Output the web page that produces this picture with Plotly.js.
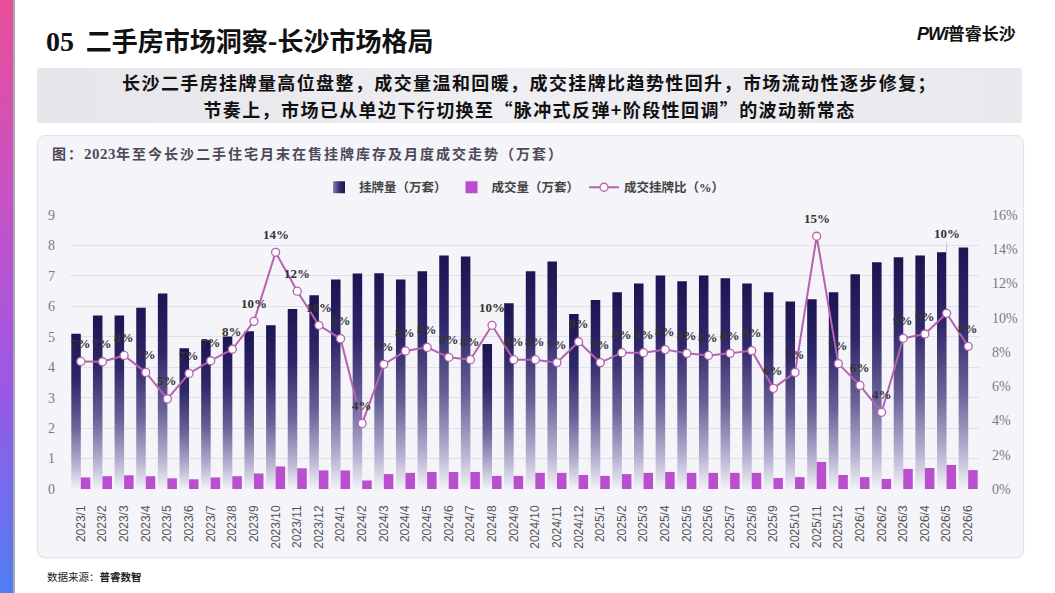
<!DOCTYPE html>
<html>
<head>
<meta charset="utf-8">
<script src="https://cdn.plot.ly/plotly-3.0.1.min.js"></script>
<style>
  html,body{margin:0;padding:0;background:#fff;}
  #page{position:relative;width:1055px;height:593px;overflow:hidden;background:#fff;font-family:"Noto Sans CJK SC",sans-serif;}
  #stripe{position:absolute;left:0;top:0;width:13px;height:593px;background:linear-gradient(180deg,#ea4f98 0%,#c552c8 35%,#9b58e6 65%,#4f7ef2 100%);border-right:2px solid #a9a7b3;}
  #title{position:absolute;left:46px;top:22px;font-size:26px;font-weight:700;color:#111;white-space:nowrap;line-height:36px;}
  #title .num{font-family:"Liberation Serif",serif;font-size:28px;}
  #logo{position:absolute;left:917px;top:20px;white-space:nowrap;color:#111;font-weight:700;}
  #logo .pw{font-family:"Liberation Sans",sans-serif;font-style:italic;font-size:18px;font-weight:900;letter-spacing:-1px;}
  #logo .cn{font-size:17px;}
  #banner{position:absolute;left:37px;top:68px;width:985px;height:55px;border-radius:3px;background:linear-gradient(90deg,#e6e5ea 0%,#efeef2 50%,#e9e8ed 100%);}
  #banner div{position:absolute;left:0;width:100%;text-align:center;font-size:18px;line-height:26px;font-weight:700;color:#111;white-space:nowrap;letter-spacing:1.4px;}
  #card{position:absolute;left:37px;top:135px;width:985px;height:421px;border-radius:8px;background:#f5f4f9;border:1px solid #e3e1ea;box-shadow:0 1px 2px rgba(0,0,0,0.05);}
  #cardTitle{position:absolute;left:52px;top:143px;font-size:14px;line-height:20px;font-weight:700;color:#4a4a58;white-space:nowrap;letter-spacing:2px;}
  #cardTitle .n{font-family:"Liberation Serif",serif;font-size:15px;letter-spacing:0.5px;}
  #source{position:absolute;left:47px;top:569px;font-size:10.5px;line-height:16px;color:#222;white-space:nowrap;}
  #chart{position:absolute;left:0;top:0;width:1055px;height:593px;}
</style>
</head>
<body>
<div id="page">
  <div id="stripe"></div>
  <div id="title"><span class="num">05</span>&nbsp;&nbsp;二手房市场洞察-长沙市场格局</div>
  <div id="logo"><span class="pw">PWi</span><span class="cn">普睿长沙</span></div>
  <div id="banner">
    <div style="top:1px">长沙二手房挂牌量高位盘整，成交量温和回暖，成交挂牌比趋势性回升，市场流动性逐步修复；</div>
    <div style="top:28px">节奏上，市场已从单边下行切换至“脉冲式反弹+阶段性回调”的波动新常态</div>
  </div>
  <div id="card"></div>
  <div id="cardTitle">图：<span class="n">2023</span>年至今长沙二手住宅月末在售挂牌库存及月度成交走势（万套）</div>
  <div id="source">数据来源：<b>普睿数智</b></div>
  <div id="chart"></div>
</div>
<script>
const months = ["2023/1","2023/2","2023/3","2023/4","2023/5","2023/6","2023/7","2023/8","2023/9","2023/10","2023/11","2023/12",
"2024/1","2024/2","2024/3","2024/4","2024/5","2024/6","2024/7","2024/8","2024/9","2024/10","2024/11","2024/12",
"2025/1","2025/2","2025/3","2025/4","2025/5","2025/6","2025/7","2025/8","2025/9","2025/10","2025/11","2025/12",
"2026/1","2026/2","2026/3","2026/4","2026/5","2026/6"];

// 挂牌量（万套）
const listing = [5.10,5.70,5.70,5.95,6.42,4.62,4.89,5.01,5.18,5.38,5.91,6.36,
6.88,7.08,7.09,6.88,7.15,7.67,7.64,4.76,6.10,7.15,7.47,5.75,
6.21,6.46,6.75,7.01,6.82,7.01,6.92,6.75,6.46,6.16,6.23,6.46,
7.05,7.45,7.61,7.67,7.78,7.93];

// 成交量（万套）
const deals = [0.38,0.42,0.45,0.42,0.35,0.32,0.38,0.42,0.51,0.74,0.68,0.61,
0.61,0.28,0.49,0.53,0.56,0.56,0.56,0.43,0.43,0.53,0.53,0.46,
0.43,0.49,0.53,0.56,0.53,0.53,0.53,0.53,0.36,0.39,0.89,0.46,
0.39,0.33,0.66,0.69,0.79,0.62];

// 成交挂牌比（%）
const ratio = [7.45,7.43,7.80,6.81,5.26,6.75,7.49,8.16,9.79,13.82,11.55,9.56,
8.78,3.83,7.28,8.06,8.27,7.69,7.55,9.56,7.55,7.55,7.38,8.60,
7.38,7.96,7.96,8.14,7.92,7.80,7.92,8.08,5.88,6.81,14.76,7.32,
6.05,4.48,8.80,9.05,10.26,8.33];

const leftTicks = [0,1,2,3,4,5,6,7,8,9];
const rightTicks = [0,2,4,6,8,10,12,14,16];
const rightTickText = ["0%","2%","4%","6%","8%","10%","12%","14%","16%"];

const serif = "Liberation Serif, Noto Sans CJK SC, serif";
const lineColor = "#b563b0";
const leaderMonth = "2026/5";   // label lifted with a thin leader line

const data = [
  {type:"bar", name:"挂牌量（万套）", x:months, y:listing, marker:{color:"#2a2264"}, hoverinfo:"skip"},
  {type:"bar", name:"成交量（万套）", x:months, y:deals, marker:{color:"#b94fcf"}, hoverinfo:"skip"},
  {type:"scatter", mode:"lines+markers", name:"成交挂牌比（%）", x:months, y:ratio, yaxis:"y2",
   line:{color:lineColor, width:2},
   marker:{size:8, color:"#ffffff", line:{color:lineColor, width:1.3}},
   hoverinfo:"skip", cliponaxis:false}
];

const labelFont = {family:serif, size:13, color:"#333333", weight:"bold"};
const annotations = months.map(function(m, i){
  const a = {x:m, y:ratio[i], xref:"x", yref:"y2", text:Math.round(ratio[i]) + "%",
             font:labelFont, showarrow:false, yshift:18};
  if(m === leaderMonth){
    a.showarrow = true; a.arrowhead = 0; a.arrowwidth = 1; a.arrowcolor = "#c4c3ce";
    a.ax = 0; a.ay = -80; a.yshift = 0; a.standoff = 5;
  }
  return a;
});

const layout = {
  width:1055, height:593,
  margin:{l:70, r:76, t:215, b:104},
  paper_bgcolor:"rgba(0,0,0,0)", plot_bgcolor:"rgba(0,0,0,0)",
  barmode:"group", bargap:0.12, bargroupgap:0,
  showlegend:true,
  legend:{orientation:"h", x:0.5, xanchor:"center", y:1.1, yanchor:"middle",
          font:{family:serif, size:12.5, color:"#444", weight:"bold"}, bgcolor:"rgba(0,0,0,0)", itemwidth:30},
  xaxis:{type:"category", range:[-0.5, months.length-0.5], autorange:false, tickangle:-90, showgrid:false, zeroline:false, showline:false, ticks:"",
         tickfont:{family:"Liberation Sans, sans-serif", size:12, color:"#555"}, ticklabelstandoff:13},
  yaxis:{range:[0,9], tickvals:leftTicks, showgrid:true, gridcolor:"#e1e0e8", gridwidth:1, zeroline:false, showline:false, ticks:"",
         tickfont:{family:serif, size:14, color:"#7a7a7a"}, ticklabelstandoff:14},
  yaxis2:{range:[0,16], tickvals:rightTicks, ticktext:rightTickText, overlaying:"y", side:"right", showgrid:false, zeroline:false, showline:false, ticks:"",
          tickfont:{family:serif, size:14, color:"#7a7a7a"}, ticklabelstandoff:12},
  annotations: annotations,
  font:{family:serif}
};

const gd = document.getElementById("chart");
Plotly.newPlot(gd, data, layout, {displayModeBar:false, staticPlot:true}).then(function(){
  const NS = "http://www.w3.org/2000/svg";
  const svg = gd.querySelector(".main-svg");
  let defs = svg.querySelector("defs");
  if(!defs){ defs = document.createElementNS(NS,"defs"); svg.insertBefore(defs, svg.firstChild); }
  function grad(id, x2, y2, stops){
    const g = document.createElementNS(NS,"linearGradient");
    g.setAttribute("id", id); g.setAttribute("x1","0"); g.setAttribute("y1","0");
    g.setAttribute("x2", x2); g.setAttribute("y2", y2);
    stops.forEach(function(s){
      const st = document.createElementNS(NS,"stop");
      st.setAttribute("offset", s[0]); st.setAttribute("stop-color", s[1]); st.setAttribute("stop-opacity", s[2]);
      g.appendChild(st);
    });
    defs.appendChild(g);
  }
  grad("listGrad","0","1",[["0","#1c1552",1],["0.3","#2f2769",1],["0.6","#6a6399",1],["0.85","#b8b4d2",1],["1","#f3f2f8",1]]);
  grad("legGrad","1","0",[["0","#8a86b0",1],["0.5","#3a3274",1],["1","#1c1552",1]]);
  const bt = gd.querySelectorAll(".barlayer .trace");
  if(bt[0]) bt[0].querySelectorAll("path").forEach(function(p){ p.style.fill = "url(#listGrad)"; });
  const lt = gd.querySelectorAll(".legend .traces");
  if(lt[0]) lt[0].querySelectorAll(".legendpoints path").forEach(function(p){ p.style.fill = "url(#legGrad)"; });
});
</script>
</body>
</html>
